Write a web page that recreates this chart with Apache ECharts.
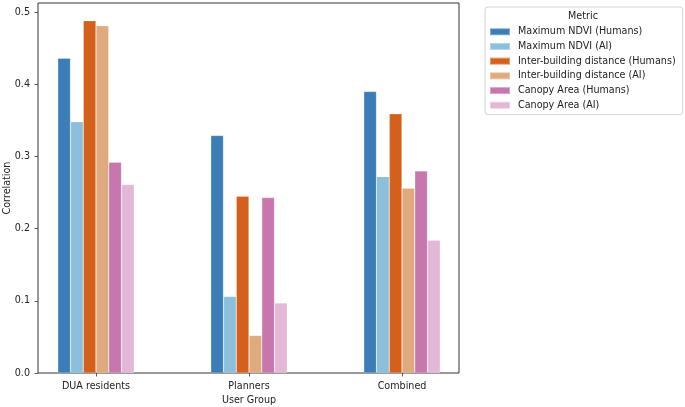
<!DOCTYPE html>
<html>
<head>
<meta charset="utf-8">
<script src="https://cdn.jsdelivr.net/npm/echarts@6/dist/echarts.min.js"></script>
<style>
html,body{margin:0;padding:0;background:#fff;}
#c{width:685px;height:407px;}
</style>
</head>
<body>
<div id="c"></div>
<script>
const categories = ['DUA residents', 'Planners', 'Combined'];
const seriesNames = [
  'Maximum NDVI (Humans)', 'Maximum NDVI (AI)',
  'Inter-building distance (Humans)', 'Inter-building distance (AI)',
  'Canopy Area (Humans)', 'Canopy Area (AI)'
];
const ndviHumans = [0.436, 0.329, 0.390];
const ndviAI = [0.348, 0.106, 0.272];
const ibdHumans = [0.488, 0.245, 0.359];
const ibdAI = [0.481, 0.052, 0.256];
const canopyHumans = [0.292, 0.243, 0.280];
const canopyAI = [0.261, 0.097, 0.184];
const yTicks = [0.0, 0.1, 0.2, 0.3, 0.4, 0.5];

const colors = ['#3b7db7', '#8bbfdc', '#d5601c', '#dfaa7d', '#c776ae', '#e2b8d6'];
const values = [ndviHumans, ndviAI, ibdHumans, ibdAI, canopyHumans, canopyAI];
const FONT = 'DejaVu Sans';
const FS = 9.6;
const TXT = '#222';

const chart = echarts.init(document.getElementById('c'));
const yMax = 0.5125;

const series = seriesNames.map((n, i) => ({
  name: n,
  type: 'bar',
  xAxisIndex: 0,
  yAxisIndex: 0,
  data: values[i],
  barGap: '0%',
  barCategoryGap: '50%',
  itemStyle: { color: colors[i], borderColor: 'rgba(255,255,255,0.35)', borderWidth: 0.6 },
  emphasis: { disabled: true },
  animation: false
}));

chart.setOption({
  animation: false,
  textStyle: { fontFamily: FONT },
  color: colors,
  title: {
    text: 'Metric',
    left: 583,
    top: 11.5,
    textAlign: 'center',
    padding: 0,
    textStyle: { fontFamily: FONT, fontSize: FS, fontWeight: 'normal', color: TXT }
  },
  legend: {
    orient: 'vertical',
    left: 485,
    top: 7,
    data: seriesNames,
    icon: 'rect',
    itemWidth: 20,
    itemHeight: 7,
    itemGap: 0,
    padding: [17.4, 7, 2, 4],
    backgroundColor: '#fff',
    borderColor: '#d4d4d4',
    borderWidth: 1,
    borderRadius: 3,
    selectedMode: false,
    textStyle: { fontFamily: FONT, fontSize: FS, color: TXT, lineHeight: 14.7, padding: [0, 0, 0, 3] }
  },
  grid: [
    { left: 19.5, right: 206.5, top: 3, bottom: 34, containLabel: false, outerBoundsMode: 'none' },
    { left: 38, right: 226, top: 3, bottom: 34, show: true, borderColor: '#333', borderWidth: 1, backgroundColor: 'transparent', z: 0, containLabel: false, outerBoundsMode: 'none' }
  ],
  xAxis: [
    {
      type: 'category', gridIndex: 0, data: categories,
      axisLine: { show: false },
      axisTick: { show: true, alignWithLabel: true, length: 3.5, lineStyle: { color: '#333', width: 0.8 } },
      axisLabel: { fontFamily: FONT, fontSize: FS, color: TXT, margin: 8.5 },
      name: 'User Group', nameLocation: 'middle', nameGap: 22, nameMoveOverlap: false,
      nameTextStyle: { fontFamily: FONT, fontSize: FS, color: TXT }
    },
    { type: 'value', gridIndex: 1, min: 0, max: 1, show: false }
  ],
  yAxis: [
    { type: 'value', gridIndex: 0, min: 0, max: yMax, show: false },
    {
      type: 'value', gridIndex: 1, min: 0, max: yMax, interval: 0.1,
      axisLine: { show: false },
      splitLine: { show: false },
      axisTick: { show: true, length: 3.5, lineStyle: { color: '#333', width: 0.8 } },
      axisLabel: {
        fontFamily: FONT, fontSize: FS, color: TXT, margin: 8, showMaxLabel: false,
        formatter: v => (yTicks.some(t => Math.abs(t - v) < 1e-6) ? v.toFixed(1) : '')
      },
      name: 'Correlation', nameLocation: 'middle', nameGap: 26, nameMoveOverlap: false,
      nameTextStyle: { fontFamily: FONT, fontSize: FS, color: TXT }
    }
  ],
  series: series
});
</script>
</body>
</html>
